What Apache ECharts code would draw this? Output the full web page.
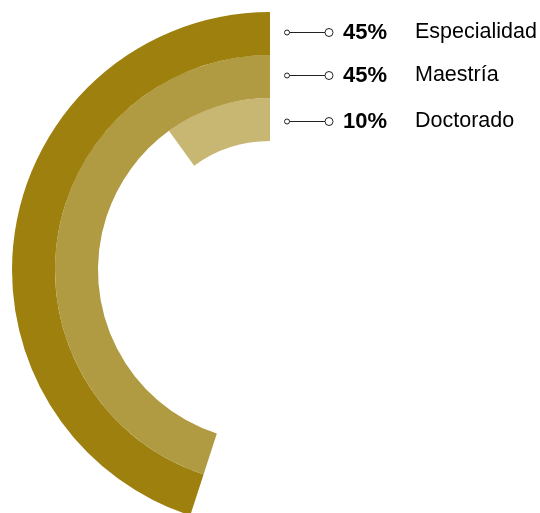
<!DOCTYPE html>
<html><head><meta charset="utf-8">
<script src="https://cdn.jsdelivr.net/npm/echarts@6/dist/echarts.min.js"></script>
<style>html,body{margin:0;padding:0;background:#fff}#c{width:540px;height:513px}</style>
</head><body><div id="c"></div>
<script>
// inner -> outer
var categories = ['Doctorado', 'Maestría', 'Especialidad'];
var values = [10, 45, 45];
var colors = ['#C8B673', '#B09A42', '#9E800F'];
var labelY = [121, 75, 32];

var chart = echarts.init(document.getElementById('c'));
var graphics = [];
categories.forEach(function (name, i) {
  var y = labelY[i] + 0.5;
  graphics.push({type: 'line', shape: {x1: 289, y1: y, x2: 325, y2: y}, style: {stroke: '#222', lineWidth: 1}});
  graphics.push({type: 'circle', shape: {cx: 287, cy: y, r: 2.5}, style: {fill: '#fff', stroke: '#222', lineWidth: 1}});
  graphics.push({type: 'circle', shape: {cx: 329, cy: y, r: 4}, style: {fill: '#fff', stroke: '#222', lineWidth: 1}});
  graphics.push({type: 'text', x: 343, y: labelY[i] + 1, style: {text: values[i] + '%', fontFamily: 'Liberation Sans', fontWeight: 'bold', fontSize: 22, fill: '#000', textVerticalAlign: 'middle', verticalAlign: 'middle'}});
  graphics.push({type: 'text', x: 415, y: labelY[i], style: {text: name, fontFamily: 'Liberation Sans', fontSize: 21.5, fill: '#000', textVerticalAlign: 'middle', verticalAlign: 'middle'}});
});

chart.setOption({
  animation: false,
  polar: {center: [270, 270], radius: [129, 258]},
  angleAxis: {type: 'value', min: 0, max: 100, startAngle: 90, clockwise: false, show: false},
  radiusAxis: {type: 'category', data: categories, show: false},
  series: [{
    type: 'bar',
    coordinateSystem: 'polar',
    barCategoryGap: '0%',
    data: values.map(function (v, i) { return {value: v, itemStyle: {color: colors[i]}}; })
  }],
  graphic: graphics
});
</script></body></html>
